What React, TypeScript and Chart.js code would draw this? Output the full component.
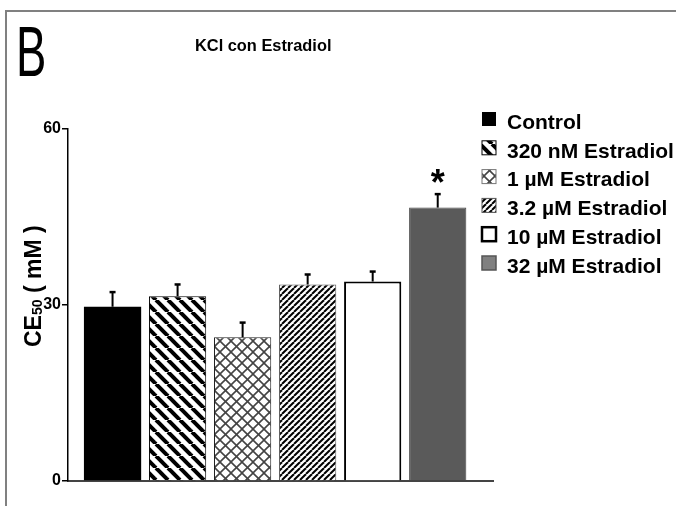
import React, { useEffect, useRef } from "react";
import { Chart, registerables } from "chart.js";

Chart.register(...registerables);

const seriesLabels = [
  "Control",
  "320 nM Estradiol",
  "1 µM Estradiol",
  "3.2 µM Estradiol",
  "10 µM Estradiol",
  "32 µM Estradiol",
];
const meanValues = [29.7, 31.5, 24.5, 33.5, 34.0, 46.6];
const errorValues = [2.5, 2.0, 2.5, 1.7, 1.7, 2.3];
const significance = ["", "", "", "", "", "*"];
const yTicks = [0, 30, 60];
const chartTitle = "KCl con Estradiol";
const panelLetter = "B";

const FONT = "'Liberation Sans', Arial, sans-serif";

function makePattern(kind: string): CanvasPattern | string {
  const c = document.createElement("canvas");
  let s = 12;
  if (kind === "back") s = 12;
  if (kind === "cross") s = 11;
  if (kind === "fwd") s = 6;
  c.width = s;
  c.height = s;
  const g = c.getContext("2d")!;
  g.fillStyle = "#fff";
  g.fillRect(0, 0, s, s);
  if (kind === "back") {
    g.strokeStyle = "#000";
    g.lineWidth = 4;
    for (const o of [-s, 0, s]) {
      g.beginPath();
      g.moveTo(o, 0);
      g.lineTo(o + s, s);
      g.stroke();
    }
  } else if (kind === "cross") {
    g.strokeStyle = "#444";
    g.lineWidth = 1.6;
    for (const o of [-s, 0, s]) {
      g.beginPath();
      g.moveTo(o, 0);
      g.lineTo(o + s, s);
      g.stroke();
      g.beginPath();
      g.moveTo(o, s);
      g.lineTo(o + s, 0);
      g.stroke();
    }
  } else if (kind === "fwd") {
    g.strokeStyle = "#000";
    g.lineWidth = 2;
    for (const o of [-s, 0, s]) {
      g.beginPath();
      g.moveTo(o, s);
      g.lineTo(o + s, 0);
      g.stroke();
    }
  }
  const p = g.createPattern(c, "repeat");
  return p || "#fff";
}

// draw text so that its ink box fills the rectangle (x0,y0)-(x1,y1)
function fitText(ctx: CanvasRenderingContext2D, text: string, font: string, x0: number, y0: number, x1: number, y1: number) {
  ctx.save();
  ctx.font = font;
  ctx.textAlign = "left";
  ctx.textBaseline = "alphabetic";
  const m = ctx.measureText(text);
  const inkW = m.actualBoundingBoxRight + m.actualBoundingBoxLeft;
  const inkH = m.actualBoundingBoxAscent + m.actualBoundingBoxDescent;
  const sx = (x1 - x0) / inkW;
  const sy = (y1 - y0) / inkH;
  ctx.translate(x0, y0);
  ctx.scale(sx, sy);
  ctx.fillText(text, m.actualBoundingBoxLeft, m.actualBoundingBoxAscent);
  ctx.restore();
}

export default function App() {
  const ref = useRef<HTMLCanvasElement | null>(null);

  useEffect(() => {
    document.body.style.margin = "0";
    const canvas = ref.current!;
    const fills: any[] = [
      "#000000",
      makePattern("back"),
      makePattern("cross"),
      makePattern("fwd"),
      "#ffffff",
      "#5a5a5a",
    ];
    const legendFills: any[] = [
      "#000000",
      fills[1],
      fills[2],
      fills[3],
      "#ffffff",
      "#808080",
    ];
    const borders = ["#000", "#000", "#222", "#555", "#000", "#444"];
    const borderWidths = [0, 1, 1, 1, 2, 1];
    const legendBorders = ["#000", "#000", "#777", "#555", "#000", "#555"];
    const legendBorderWidths = [0, 1, 1, 1, 2.5, 1.5];

    const decoPlugin = {
      id: "deco",
      beforeDraw(chart: any) {
        const ctx = chart.ctx;
        ctx.save();
        ctx.fillStyle = "#fff";
        ctx.fillRect(0, 0, chart.width, chart.height);
        ctx.strokeStyle = "#808080";
        ctx.lineWidth = 2;
        ctx.beginPath();
        ctx.moveTo(6, chart.height);
        ctx.lineTo(6, 11);
        ctx.lineTo(chart.width, 11);
        ctx.stroke();
        ctx.fillStyle = "#000";
        // panel letter
        fitText(ctx, panelLetter, `normal 60px ${FONT}`, 19, 28, 44, 76);
        // title
        fitText(ctx, chartTitle, `bold 16px ${FONT}`, 196, 38, 331, 51);
        // y axis title
        ctx.save();
        ctx.translate(41, 347);
        ctx.rotate(-Math.PI / 2);
        ctx.textAlign = "left";
        ctx.textBaseline = "alphabetic";
        ctx.font = `bold 23px ${FONT}`;
        let x = 0;
        ctx.fillText("CE", x, 0);
        x += ctx.measureText("CE").width;
        ctx.font = `bold 14px ${FONT}`;
        ctx.fillText("50", x, 1);
        x += ctx.measureText("50").width;
        ctx.font = `bold 23px ${FONT}`;
        ctx.fillText(" ( mM )", x, 0);
        ctx.restore();
        ctx.restore();
      },
      afterDatasetsDraw(chart: any) {
        const ctx = chart.ctx;
        const meta = chart.getDatasetMeta(0);
        const ys = chart.scales.y;
        ctx.save();
        ctx.strokeStyle = "#000";
        meta.data.forEach((el: any, i: number) => {
          const top = ys.getPixelForValue(meanValues[i] + errorValues[i]);
          ctx.lineWidth = 2;
          ctx.beginPath();
          ctx.moveTo(el.x, el.y);
          ctx.lineTo(el.x, top);
          ctx.stroke();
          ctx.lineWidth = 2.5;
          ctx.beginPath();
          ctx.moveTo(el.x - 3, top);
          ctx.lineTo(el.x + 3, top);
          ctx.stroke();
          if (significance[i]) {
            ctx.font = `bold 36px ${FONT}`;
            ctx.textAlign = "center";
            ctx.textBaseline = "alphabetic";
            ctx.fillStyle = "#000";
            const m = ctx.measureText(significance[i]);
            const center = top - 18;
            const base = center - (m.actualBoundingBoxDescent - m.actualBoundingBoxAscent) / 2;
            ctx.fillText(significance[i], el.x, base);
          }
        });
        // legend
        ctx.textAlign = "left";
        ctx.textBaseline = "middle";
        ctx.font = `bold 21px ${FONT}`;
        seriesLabels.forEach((lab, i) => {
          const cy = 122 + i * 28.8;
          const bx = 482;
          const by = cy - 10;
          ctx.fillStyle = legendFills[i];
          ctx.fillRect(bx, by, 14, 14);
          if (legendBorderWidths[i] > 0) {
            ctx.strokeStyle = legendBorders[i];
            ctx.lineWidth = legendBorderWidths[i];
            ctx.strokeRect(bx, by, 14, 14);
          }
          ctx.fillStyle = "#000";
          ctx.fillText(lab, 507, cy + 1);
        });
        ctx.restore();
      },
    };

    const chart = new Chart(canvas, {
      type: "bar",
      data: {
        datasets: [
          {
            label: "CE50",
            data: meanValues.map((v, i) => ({ x: i, y: v })),
            backgroundColor: fills,
            borderColor: borders,
            borderWidth: borderWidths,
            barPercentage: 0.88,
            categoryPercentage: 1,
          } as any,
        ],
      },
      options: {
        animation: false,
        responsive: false,
        devicePixelRatio: 1,
        layout: { padding: { left: 0, right: 183, top: 129, bottom: 25 } },
        plugins: {
          legend: { display: false },
          title: { display: false },
          tooltip: { enabled: false },
        },
        scales: {
          x: {
            type: "linear",
            min: -0.685,
            max: 5.85,
            offset: false,
            afterBuildTicks: (s: any) => {
              s.ticks = meanValues.map((_, i) => ({ value: i }));
            },
            ticks: { display: false },
            grid: { display: false, drawTicks: false, offset: false },
            border: { display: true, color: "#444", width: 2 },
            afterFit: (s: any) => {
              s.height = 0;
            },
          },
          y: {
            min: 0,
            max: 60,
            afterBuildTicks: (s: any) => {
              s.ticks = yTicks.map((v) => ({ value: v }));
            },
            ticks: {
              color: "#000",
              padding: 1,
              font: { family: FONT, size: 16, weight: "bold" },
            },
            grid: {
              display: true,
              drawOnChartArea: false,
              drawTicks: true,
              tickLength: 6,
              color: "#000",
              lineWidth: 1.5,
            },
            border: { display: true, color: "#000", width: 1.5 },
            afterFit: (s: any) => {
              s.width = 68;
            },
          },
        } as any,
      },
      plugins: [decoPlugin],
    });
    return () => chart.destroy();
  }, []);

  return (
    <div style={{ width: 676, height: 506 }}>
      <canvas ref={ref} width={676} height={506} style={{ display: "block" }} />
    </div>
  );
}
